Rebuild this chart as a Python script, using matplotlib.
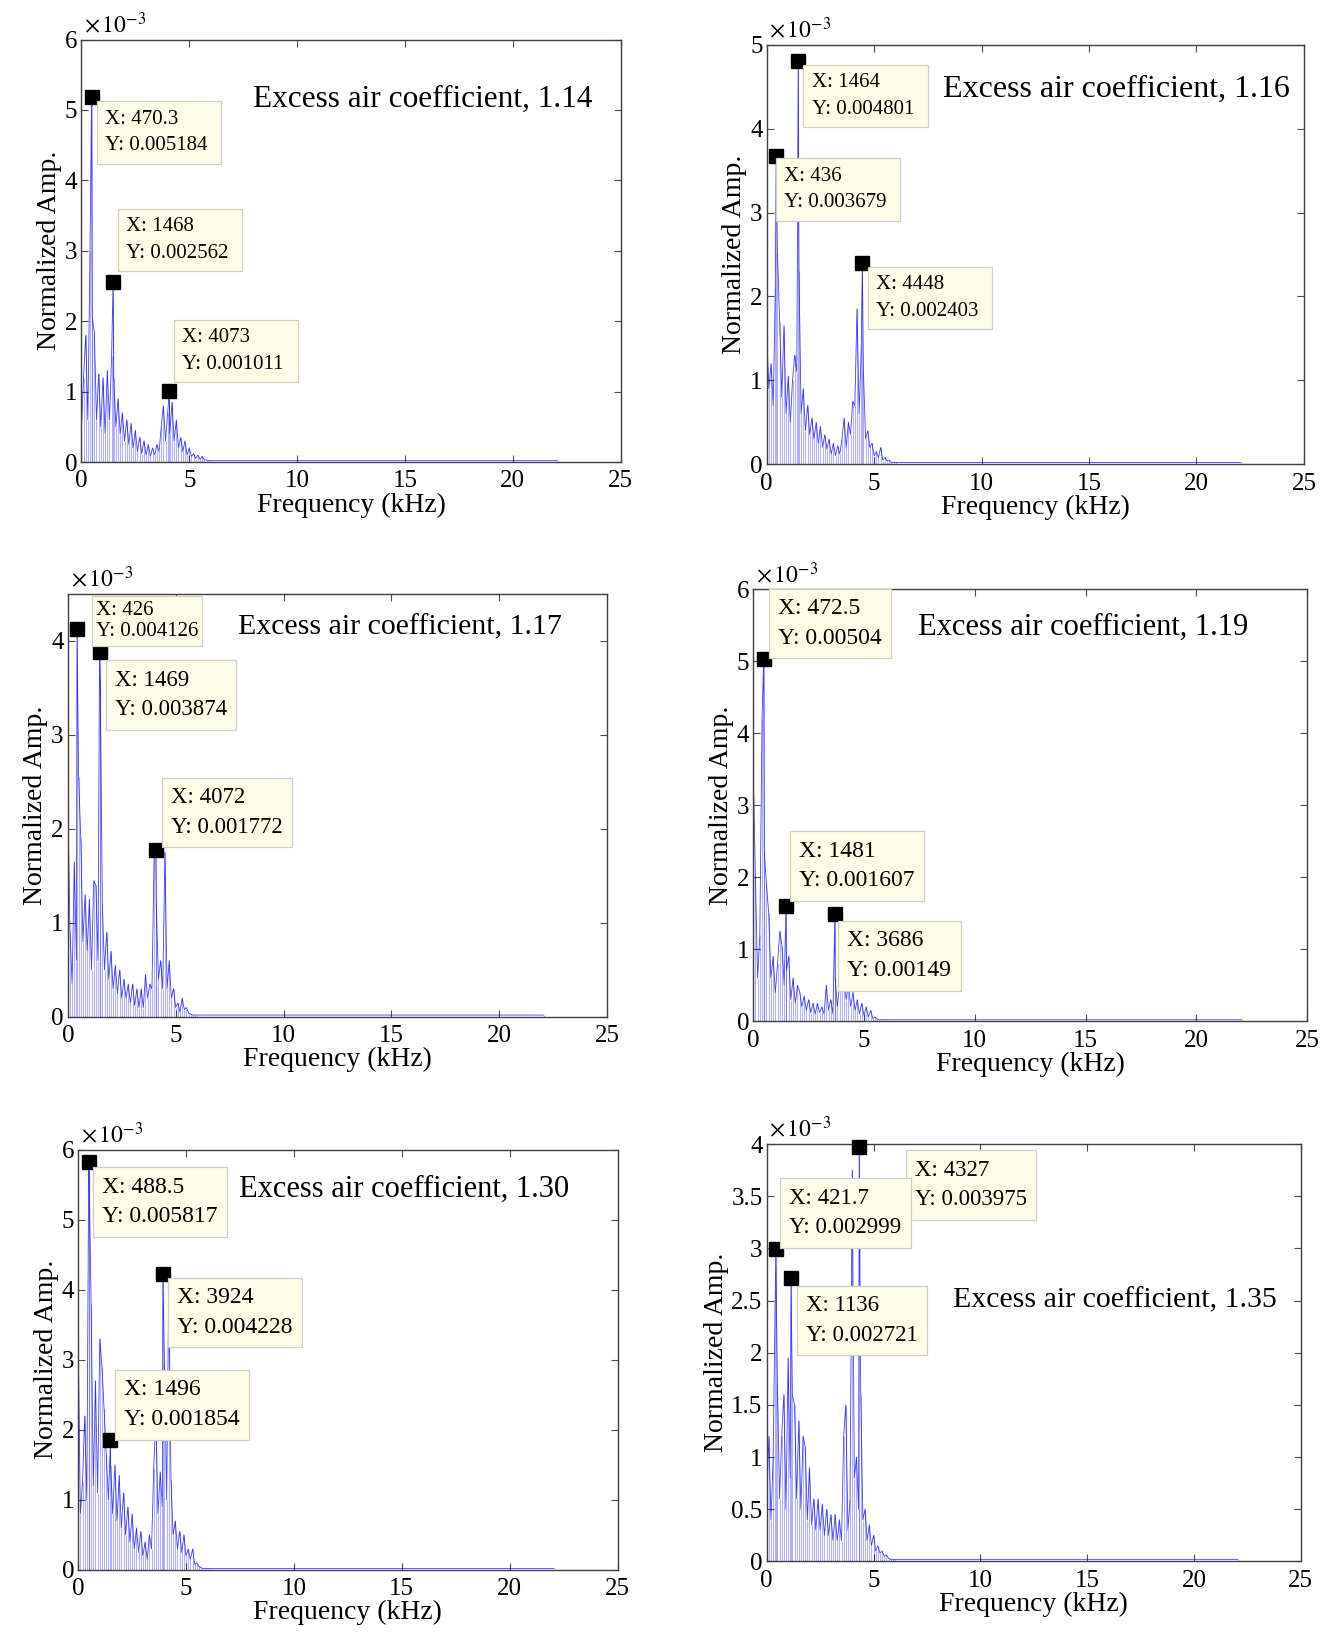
import numpy as np
import matplotlib
matplotlib.use('Agg')
import matplotlib.pyplot as plt

#==============================================================================
#SETTINGS
#==============================================================================

plt.rcParams['font.family'] = ['Liberation Serif', 'DejaVu Serif']
plt.rcParams['mathtext.fontset'] = 'stix'

tick_font = 18
label_font = 20

#==============================================================================
#DATA  (amplitudes in units of 1e-3, frequency grid in kHz)
#==============================================================================

freq_grid = np.round(np.arange(0.0, 6.0, 0.1), 1)

coef_labels = ['1.14', '1.16', '1.17', '1.19', '1.30', '1.35']

amp_114 = [0.45, 1.2, 1.8, 0.6, 3.0, 2.05, 1.85, 0.6, 1.25, 0.5,
           1.2, 0.4, 1.3, 0.6, 1.5, 1.2, 0.5, 0.9, 0.4, 0.7,
           0.3, 0.6, 0.25, 0.55, 0.2, 0.45, 0.15, 0.35, 0.12, 0.3,
           0.1, 0.25, 0.08, 0.2, 0.1, 0.25, 0.15, 0.5, 0.8, 0.3,
           0.7, 0.4, 0.85, 0.3, 0.6, 0.2, 0.35, 0.15, 0.3, 0.1,
           0.2, 0.08, 0.12, 0.05, 0.1, 0.04, 0.08, 0.03, 0.03, 0.02]
amp_116 = [1.55, 0.9, 1.2, 0.7, 2.1, 2.5, 1.7, 0.8, 1.65, 0.6,
           1.05, 0.5, 1.0, 1.3, 1.1, 2.3, 0.6, 0.9, 0.4, 0.7,
           0.35, 0.55, 0.3, 0.5, 0.25, 0.45, 0.2, 0.35, 0.18, 0.3,
           0.12, 0.25, 0.1, 0.22, 0.12, 0.3, 0.55, 0.2, 0.5, 0.35,
           0.75, 0.7, 1.85, 0.6, 1.4, 1.1, 0.3, 0.4, 0.2, 0.25,
           0.1, 0.15, 0.08, 0.2, 0.05, 0.08, 0.04, 0.05, 0.02, 0.02]
amp_117 = [2.3, 0.9, 0.35, 1.65, 0.6, 2.55, 1.9, 0.8, 1.3, 0.7,
           1.25, 0.5, 1.45, 1.4, 0.6, 3.6, 1.2, 0.5, 0.9, 0.4,
           0.7, 0.3, 0.55, 0.25, 0.5, 0.2, 0.4, 0.2, 0.35, 0.15,
           0.35, 0.12, 0.3, 0.1, 0.3, 0.1, 0.45, 0.2, 0.35, 0.3,
           1.7, 1.2, 0.4, 0.6, 0.3, 1.75, 0.3, 0.6, 0.2, 0.3,
           0.1, 0.15, 0.05, 0.2, 0.08, 0.1, 0.04, 0.03, 0.02, 0.02]
amp_119 = [3.55, 2.0, 0.6, 1.2, 4.2, 2.35, 1.9, 1.5, 0.6, 0.9,
           0.4, 0.8, 1.25, 1.05, 0.5, 0.7, 0.9, 0.3, 0.6, 0.25,
           0.5, 0.4, 0.2, 0.35, 0.15, 0.3, 0.12, 0.25, 0.1, 0.25,
           0.12, 0.2, 0.1, 0.5, 0.15, 0.3, 0.1, 0.6, 0.2, 0.55,
           0.5, 0.55, 0.3, 0.5, 0.2, 0.4, 0.15, 0.3, 0.1, 0.25,
           0.08, 0.2, 0.06, 0.15, 0.04, 0.06, 0.03, 0.02, 0.02, 0.02]
amp_130 = [3.3, 0.8, 1.25, 2.2, 1.0, 5.7, 3.8, 1.2, 2.7, 1.1,
           3.3, 2.9, 2.3, 1.65, 1.0, 1.5, 0.8, 1.5, 0.7, 1.35,
           0.6, 1.1, 0.5, 0.9, 0.4, 0.8, 0.3, 0.6, 0.25, 0.55,
           0.2, 0.4, 0.15, 0.5, 0.3, 1.45, 2.2, 0.8, 1.4, 0.9,
           2.95, 1.0, 4.15, 1.3, 0.5, 0.7, 0.3, 0.55, 0.25, 0.5,
           0.2, 0.3, 0.15, 0.3, 0.08, 0.1, 0.05, 0.03, 0.02, 0.02]
amp_135 = [0.6, 1.2, 0.4, 1.0, 2.6, 1.7, 0.6, 1.2, 1.6, 0.5,
           1.95, 0.8, 1.6, 1.5, 0.6, 1.35, 0.5, 1.2, 1.1, 0.4,
           0.9, 0.35, 0.6, 0.3, 0.6, 0.3, 0.55, 0.25, 0.5, 0.25,
           0.45, 0.2, 0.45, 0.2, 0.4, 0.2, 1.2, 1.5, 0.3, 0.6,
           3.75, 0.8, 1.0, 0.5, 1.6, 0.4, 0.5, 0.2, 0.35, 0.15,
           0.25, 0.1, 0.15, 0.08, 0.1, 0.05, 0.06, 0.03, 0.02, 0.02]

#flat noise floor up to Nyquist
tail_f = [6.0, 22.05]
tail_a = [0.02, 0.02]

#data tips (Hz, raw amplitude)
peak_hz_114 = [470.3, 1468, 4073]
peak_y_114 = [0.005184, 0.002562, 0.001011]
peak_hz_116 = [1464, 436, 4448]
peak_y_116 = [0.004801, 0.003679, 0.002403]
peak_hz_117 = [426, 1469, 4072]
peak_y_117 = [0.004126, 0.003874, 0.001772]
peak_hz_119 = [472.5, 1481, 3686]
peak_y_119 = [0.00504, 0.001607, 0.00149]
peak_hz_130 = [488.5, 3924, 1496]
peak_y_130 = [0.005817, 0.004228, 0.001854]
peak_hz_135 = [4327, 421.7, 1136]
peak_y_135 = [0.003975, 0.002999, 0.002721]

#==============================================================================
#LAYOUT
#==============================================================================

panels = [
    dict(rect=[0.0612, 0.7174, 0.4055, 0.2584], amp=amp_114, phz=peak_hz_114, py=peak_y_114,
         ylim=6, yticks=np.arange(0, 7, 1), tip_fs=15, title_fs=22.5, title_xy=(0.319, 0.859),
         tips=[(0.029, 0.854), (0.068, 0.600), (0.172, 0.336)]),
    dict(rect=[0.5765, 0.7161, 0.4039, 0.2565], amp=amp_116, phz=peak_hz_116, py=peak_y_116,
         ylim=5, yticks=np.arange(0, 6, 1), tip_fs=15, title_fs=23, title_xy=(0.328, 0.893),
         tips=[(0.068, 0.953), (0.017, 0.729), (0.188, 0.470)]),
    dict(rect=[0.0510, 0.3780, 0.4055, 0.2590], amp=amp_117, phz=peak_hz_117, py=peak_y_117,
         ylim=4.5, yticks=np.arange(0, 5, 1), tip_fs=16.5, title_fs=21.5, title_xy=(0.315, 0.921),
         tips=[(0.044, 0.993), (0.070, 0.842), (0.174, 0.564)]),
    dict(rect=[0.5663, 0.3754, 0.4165, 0.2641], amp=amp_119, phz=peak_hz_119, py=peak_y_119,
         ylim=6, yticks=np.arange(0, 7, 1), tip_fs=17, title_fs=22, title_xy=(0.298, 0.913),
         tips=[(0.028, 1.002), (0.066, 0.440), (0.153, 0.232)]),
    dict(rect=[0.0588, 0.0398, 0.4055, 0.2571], amp=amp_130, phz=peak_hz_130, py=peak_y_130,
         ylim=6, yticks=np.arange(0, 7, 1), tip_fs=17, title_fs=22, title_xy=(0.298, 0.906),
         tips=[(0.027, 0.958), (0.166, 0.695), (0.068, 0.476)]),
    dict(rect=[0.5765, 0.0450, 0.4016, 0.2552], amp=amp_135, phz=peak_hz_135, py=peak_y_135,
         ylim=4, yticks=np.arange(0, 4.5, 0.5), tip_fs=16.5, title_fs=21.5, title_xy=(0.348, 0.625),
         tips=[(0.260, 0.985), (0.025, 0.918), (0.057, 0.660)]),
]

#==============================================================================
#PLOTTING
#==============================================================================

f = plt.figure(figsize=(13.3, 16.35), dpi=100)

for i, p in enumerate(panels):
    ax = f.add_axes(p['rect'])

    pk_f = np.array(p['phz']) / 1000.
    pk_a = np.array(p['py']) * 1e3
    fr = np.concatenate([freq_grid, pk_f])
    am = np.concatenate([np.array(p['amp']), pk_a])
    order = np.argsort(fr)
    fr = np.concatenate([fr[order], tail_f])
    am = np.concatenate([am[order], tail_a])

    #spectrum
    ax.vlines(fr, 0, am, color='b', lw=0.8, alpha=0.3)
    ax.plot(fr, am, color='b', lw=0.6, alpha=0.75)

    #data tips
    ax.plot(pk_f, pk_a, 's', color='k', ms=10, zorder=5, clip_on=False)
    for j, (tx, ty) in enumerate(p['tips']):
        fs = p['tip_fs']
        ls = 1.55
        pad = 0.4
        tail = ' ' if fs < 16 else ''
        if i == 2 and j == 0:
            fs, ls, pad = 15, 1.2, 0.2
        s = 'X: %g%s\nY: %g%s' % (p['phz'][j], tail, p['py'][j], tail)
        ax.annotate(s, xy=(tx, ty), xycoords='axes fraction',
                    xytext=(pad * fs, -pad * fs), textcoords='offset points',
                    ha='left', va='top', fontsize=fs, linespacing=ls,
                    annotation_clip=False, zorder=6,
                    bbox=dict(boxstyle='square,pad=%g' % pad, fc='#fefee8', ec='#cfcfc4', lw=0.9))

    ax.text(p['title_xy'][0], p['title_xy'][1], 'Excess air coefficient, ' + coef_labels[i],
            transform=ax.transAxes, ha='left', va='center', fontsize=p['title_fs'])

    #axes styling
    ax.set_xlim(0, 25)
    ax.set_ylim(0, p['ylim'])
    ax.set_xticks(np.arange(0, 30, 5))
    ax.set_yticks(p['yticks'])
    ax.set_yticklabels(['%g' % v for v in p['yticks']])
    ax.tick_params(direction='in', top=True, right=True, length=5, width=0.8,
                   labelsize=tick_font, color='0.3')
    ax.tick_params(axis='x', pad=6)
    ax.tick_params(axis='y', pad=3)
    for sp in ax.spines.values():
        sp.set_color('0.25')
        sp.set_linewidth(1.0)

    ax.set_xlabel('Frequency (kHz)', fontsize=label_font, labelpad=0)
    ax.set_ylabel('Normalized Amp.', fontsize=label_font, labelpad=2)
    ax.text(0.005, 1.005, r'$\times\,10^{-3}$', transform=ax.transAxes,
            ha='left', va='bottom', fontsize=17)

f.savefig('out.png', dpi=100)
